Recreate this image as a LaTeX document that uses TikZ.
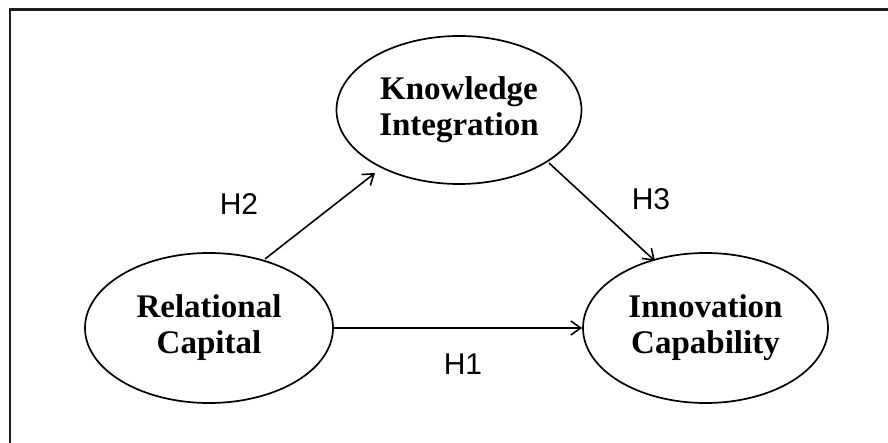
\documentclass[tikz,border=0pt]{standalone}
\usepackage{fontspec}
\setmainfont{Liberation Serif}
\newfontfamily\labelfont{Liberation Sans}
\usetikzlibrary{shapes.geometric,arrows.meta}
\begin{document}
\begin{tikzpicture}[x=1pt,y=-1pt,
  construct/.style={draw,ellipse,line width=1.7pt,inner sep=0pt,
    font=\fontsize{33}{36}\selectfont\bfseries,align=center},
  hyp/.style={font=\labelfont\fontsize{30}{32}\selectfont},
  link/.style={line width=1.6pt,-{Straight Barb[length=10pt,width=14pt,line width=1.6pt]}}]
\useasboundingbox (0,0) rectangle (888,443);
\draw[line width=2.4pt,color=black!88] (10,443) -- (10,9.5) -- (888,9.5);
\node[construct,minimum width=245pt,minimum height=148pt] (ki) at (459,110) {Knowledge\\Integration};
\node[construct,minimum width=248pt,minimum height=150pt] (rc) at (209,328) {Relational\\Capital};
\node[construct,minimum width=245pt,minimum height=150pt] (ic) at (705.5,328) {Innovation\\Capability};
\coordinate (h2s) at (265,259);
\coordinate (h2e) at (375,173);
\coordinate (h3s) at (549,163);
\coordinate (h3e) at (655,261);
\draw[link] (h2s) -- (h2e);
\draw[link] (h3s) -- (h3e);
\draw[link] (rc.east) -- (ic.west);
\node[hyp] (l2) at (239,204) {H2};
\node[hyp] (l3) at (651,199) {H3};
\node[hyp] (l1) at (463,364) {H1};
\end{tikzpicture}
\end{document}
